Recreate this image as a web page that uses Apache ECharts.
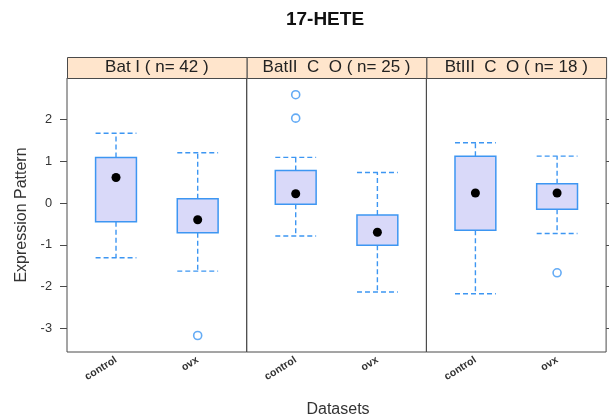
<!DOCTYPE html>
<html>
<head>
<meta charset="utf-8">
<script src="https://cdn.jsdelivr.net/npm/echarts@6/dist/echarts.min.js"></script>
<style>html,body{margin:0;padding:0;background:#fff;}#c{width:609px;height:420px;}</style>
</head>
<body>
<div id="c"></div>
<script>
// ---- data ----
const chartTitle = '17-HETE';
const categories = ['control', 'ovx'];
const panelNames = ['Bat I ( n= 42 )', 'BatII  C  O ( n= 25 )', 'BtIII  C  O ( n= 18 )'];
const yTicks = [-3, -2, -1, 0, 1, 2];
// [lower whisker, Q1, median, Q3, upper whisker]
const batI_control = [-1.31, -0.45, 0.61, 1.09, 1.67];
const batI_ovx = [-1.63, -0.71, -0.40, 0.10, 1.20];
const batII_control = [-0.79, -0.03, 0.22, 0.78, 1.09];
const batII_ovx = [-2.13, -1.01, -0.70, -0.29, 0.73];
const btIII_control = [-2.17, -0.65, 0.24, 1.12, 1.44];
const btIII_ovx = [-0.73, -0.15, 0.24, 0.46, 1.12];
// outliers: [category index (1-based), value]
const batI_outliers = [[2, -3.17]];
const batII_outliers = [[1, 2.03], [1, 2.59]];
const btIII_outliers = [[2, -1.67]];

const panelBoxes = [[batI_control, batI_ovx], [batII_control, batII_ovx], [btIII_control, btIII_ovx]];
const panelOutliers = [batI_outliers, batII_outliers, btIII_outliers];

// ---- style / layout ----
const BLUE = '#3d96f2';
const FILL = '#d9d9f9';
const FRAME = '#4a4a4a';
const L0 = 67, PW = 179.7, TOP = 78, PH = 274, STRIP_H = 21;
const YMIN = -3.565, YMAX = 2.99;

const chart = echarts.init(document.getElementById('c'), null, {renderer: 'canvas'});

const grids = [], xAxes = [], yAxes = [], series = [], graphics = [];

function renderBox(params, api) {
  const x = api.value(0);
  const lo = api.coord([x, api.value(1)]);
  const q1 = api.coord([x, api.value(2)]);
  const md = api.coord([x, api.value(3)]);
  const q3 = api.coord([x, api.value(4)]);
  const hi = api.coord([x, api.value(5)]);
  const w = api.size([0.5, 0])[0];
  const h = w / 2;
  const cx = q1[0];
  const dash = {stroke: BLUE, lineWidth: 1.4, lineDash: [5, 3], fill: null};
  return {
    type: 'group',
    children: [
      {type: 'line', shape: {x1: cx, y1: q3[1], x2: cx, y2: hi[1]}, style: dash},
      {type: 'line', shape: {x1: cx, y1: q1[1], x2: cx, y2: lo[1]}, style: dash},
      {type: 'line', shape: {x1: cx - h, y1: hi[1], x2: cx + h, y2: hi[1]}, style: dash},
      {type: 'line', shape: {x1: cx - h, y1: lo[1], x2: cx + h, y2: lo[1]}, style: dash},
      {type: 'rect', shape: {x: cx - h, y: q3[1], width: w, height: q1[1] - q3[1]},
        style: {fill: FILL, stroke: BLUE, lineWidth: 1.5}},
      {type: 'circle', shape: {cx: cx, cy: md[1], r: 4.5}, style: {fill: '#000'}}
    ]
  };
}

for (let i = 0; i < 3; i++) {
  grids.push({left: L0 + i * PW, top: TOP, width: PW, height: PH, show: true,
    borderColor: FRAME, borderWidth: 1, backgroundColor: 'transparent', containLabel: false});
  xAxes.push({type: 'value', gridIndex: i, min: 0.4, max: 2.6,
    axisLine: {show: false}, axisTick: {show: false}, splitLine: {show: false},
    axisLabel: {customValues: [1, 2], formatter: v => categories[Math.round(v) - 1],
      rotate: 32, fontSize: 10.5, fontWeight: 'bold', color: '#333', margin: 7,
      fontFamily: 'Liberation Sans, Arial, sans-serif'}});
  yAxes.push({type: 'value', gridIndex: i, min: YMIN, max: YMAX,
    axisLine: {show: false}, splitLine: {show: false},
    axisTick: {show: i === 0, inside: false, length: 7, customValues: yTicks, lineStyle: {color: FRAME}},
    axisLabel: {show: i === 0, customValues: yTicks, fontSize: 12.8, color: '#333', margin: 15,
      fontFamily: 'Liberation Sans, Arial, sans-serif'}});
  const data = panelBoxes[i].map((b, k) => [k + 1].concat(b));
  series.push({type: 'custom', xAxisIndex: i, yAxisIndex: i, renderItem: renderBox, data: data, silent: true});
  series.push({type: 'scatter', xAxisIndex: i, yAxisIndex: i, data: panelOutliers[i], symbol: 'circle',
    symbolSize: 8, itemStyle: {color: 'transparent', borderColor: BLUE, borderWidth: 1.6}, silent: true});
  graphics.push({type: 'rect', left: L0 + i * PW, top: TOP - STRIP_H,
    shape: {width: PW, height: STRIP_H}, style: {fill: '#ffe5cc', stroke: FRAME, lineWidth: 1}});
  graphics.push({type: 'text', x: L0 + i * PW + PW / 2, y: TOP - STRIP_H / 2,
    style: {text: panelNames[i], fontSize: 17, fill: '#222', align: 'center', verticalAlign: 'middle',
      fontFamily: 'Liberation Sans, Arial, sans-serif'}});
}
// right-side ticks on last panel
yAxes.push({type: 'value', gridIndex: 2, position: 'right', min: YMIN, max: YMAX,
  axisLine: {show: false}, splitLine: {show: false}, axisLabel: {show: false},
  axisTick: {show: true, length: 7, customValues: yTicks, lineStyle: {color: FRAME}}});

graphics.push({type: 'text', x: 338, y: 410,
  style: {text: 'Datasets', fontSize: 16, fill: '#333', align: 'center', verticalAlign: 'middle',
    fontFamily: 'Liberation Sans, Arial, sans-serif'}});
graphics.push({type: 'text', x: 22, y: 215, rotation: Math.PI / 2,
  style: {text: 'Expression Pattern', fontSize: 16, fill: '#333', align: 'center', verticalAlign: 'middle',
    fontFamily: 'Liberation Sans, Arial, sans-serif'}});
graphics.push({type: 'text', x: 325, y: 20,
  style: {text: chartTitle, fontSize: 19, fontWeight: 'bold', fill: '#111', align: 'center', verticalAlign: 'middle',
    fontFamily: 'Liberation Sans, Arial, sans-serif'}});

chart.setOption({
  animation: false,
  backgroundColor: '#fff',
  grid: grids, xAxis: xAxes, yAxis: yAxes, series: series, graphic: graphics
});
</script>
</body>
</html>
